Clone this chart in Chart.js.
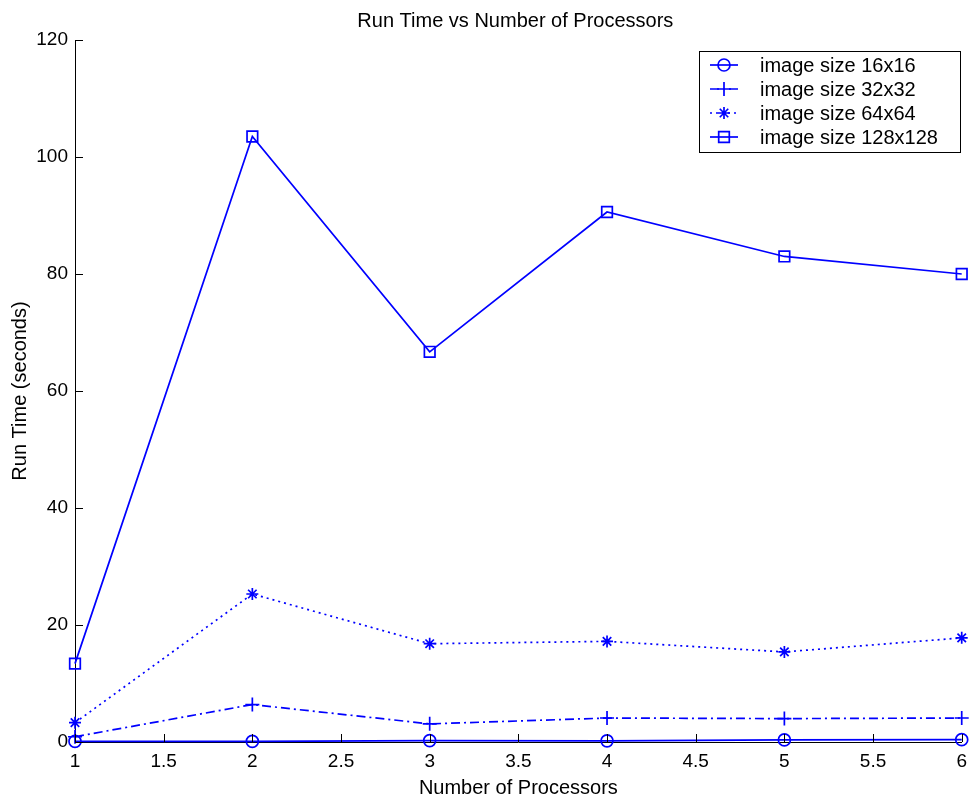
<!DOCTYPE html>
<html>
<head>
<meta charset="utf-8">
<title>Run Time vs Number of Processors</title>
<script src="https://cdn.jsdelivr.net/npm/chart.js@4.4.1/dist/chart.umd.min.js"></script>
<style>
    body { margin: 0; background: #fff; }
</style>
</head>
<body>
<canvas id="myChart" width="975" height="800"></canvas>
<script>
// datos
const processors = [1, 2, 3, 4, 5, 6];
const size16 = [0.1, 0.1, 0.25, 0.2, 0.35, 0.4];
const size32 = [0.9, 6.4, 3.1, 4.1, 4.0, 4.1];
const size64 = [3.3, 25.3, 16.8, 17.2, 15.4, 17.8];
const size128 = [13.4, 103.5, 66.7, 90.6, 83.0, 80.0];
const seriesLabels = ['image size 16x16', 'image size 32x32', 'image size 64x64', 'image size 128x128'];
const xTicks = [1, 1.5, 2, 2.5, 3, 3.5, 4, 4.5, 5, 5.5, 6];
const yTicks = [0, 20, 40, 60, 80, 100, 120];

const fuente = 'Arial, "Liberation Sans", sans-serif';
const azul = '#0000ff';

function serie(label, values, style, radius, dash) {
    return {
        label: label,
        data: processors.map((p, i) => ({ x: p, y: values[i] })),
        borderColor: azul,
        borderWidth: 1.7,
        borderDash: dash,
        backgroundColor: 'rgba(0,0,0,0)',
        pointStyle: style,
        pointRadius: radius,
        pointBorderColor: azul,
        pointBackgroundColor: 'rgba(0,0,0,0)',
        pointBorderWidth: 1.7,
        tension: 0,
        clip: false
    };
}

// marcas hacia dentro, titulo y leyenda dentro del area
const extras = {
    id: 'extras',
    afterDraw(chart) {
        const { ctx, chartArea, scales } = chart;
        ctx.save();
        ctx.strokeStyle = '#000';
        ctx.lineWidth = 1;
        ctx.setLineDash([]);
        ctx.beginPath();
        scales.x.ticks.forEach(t => {
            const px = Math.round(scales.x.getPixelForValue(t.value)) + 0.5;
            ctx.moveTo(px, chartArea.bottom);
            ctx.lineTo(px, chartArea.bottom - 8);
        });
        scales.y.ticks.forEach(t => {
            const py = Math.round(scales.y.getPixelForValue(t.value)) + 0.5;
            ctx.moveTo(chartArea.left, py);
            ctx.lineTo(chartArea.left + 8, py);
        });
        ctx.stroke();

        ctx.fillStyle = '#000';
        ctx.font = '20px ' + fuente;
        ctx.textAlign = 'center';
        ctx.textBaseline = 'alphabetic';
        ctx.fillText('Run Time vs Number of Processors', (chartArea.left + chartArea.right) / 2 - 3, 27);

        // leyenda
        const bx = 699, by = 51, bw = 261, bh = 101;
        ctx.fillStyle = '#fff';
        ctx.fillRect(bx, by, bw, bh);
        ctx.strokeStyle = '#000';
        ctx.lineWidth = 1;
        ctx.strokeRect(bx + 0.5, by + 0.5, bw, bh);
        chart.data.datasets.forEach((ds, i) => {
            const y = 65 + i * 24;
            ctx.strokeStyle = azul;
            ctx.lineWidth = 1.7;
            ctx.setLineDash(ds.borderDash || []);
            ctx.beginPath();
            ctx.moveTo(710, y);
            ctx.lineTo(738, y);
            ctx.stroke();
            ctx.setLineDash([]);
            ctx.fillStyle = 'rgba(0,0,0,0)';
            Chart.helpers.drawPoint(ctx, {
                pointStyle: ds.pointStyle,
                radius: ds.pointRadius,
                rotation: 0,
                borderWidth: 1.7
            }, 724, y);
            ctx.fillStyle = '#000';
            ctx.font = '20px ' + fuente;
            ctx.textAlign = 'left';
            ctx.textBaseline = 'middle';
            ctx.fillText(ds.label, 760, y + 1);
        });
        ctx.restore();
    }
};

const ctx = document.getElementById('myChart').getContext('2d');
const myChart = new Chart(ctx, {
    type: 'line',
    data: {
        datasets: [
            serie(seriesLabels[0], size16, 'circle', 6, []),
            serie(seriesLabels[1], size32, 'cross', 7, [9, 4, 2, 4]),
            serie(seriesLabels[2], size64, 'star', 6, [2, 4]),
            serie(seriesLabels[3], size128, 'rect', 7.5, [])
        ]
    },
    options: {
        responsive: false,
        animation: false,
        layout: {
            padding: { top: 40, right: 8, left: 0, bottom: 0 }
        },
        plugins: {
            legend: { display: false },
            title: { display: false },
            tooltip: { enabled: false }
        },
        scales: {
            x: {
                type: 'linear',
                min: 1,
                max: 6,
                afterBuildTicks: s => { s.ticks = xTicks.map(v => ({ value: v })); },
                afterFit: s => { s.height = 58; },
                grid: { drawOnChartArea: false, drawTicks: false },
                border: { display: true, color: '#000', width: 1 },
                ticks: {
                    color: '#000',
                    padding: 8,
                    maxRotation: 0,
                    font: { family: fuente, size: 19 },
                    callback: v => String(v)
                },
                title: {
                    display: true,
                    text: 'Number of Processors',
                    color: '#000',
                    font: { family: fuente, size: 20 },
                    padding: { top: 0, bottom: 0 }
                }
            },
            y: {
                type: 'linear',
                min: 0,
                max: 120,
                afterBuildTicks: s => { s.ticks = yTicks.map(v => ({ value: v })); },
                afterFit: s => { s.width = 75; },
                grid: { drawOnChartArea: false, drawTicks: false },
                border: { display: true, color: '#000', width: 1 },
                ticks: {
                    color: '#000',
                    padding: 7,
                    font: { family: fuente, size: 19 },
                    callback: v => String(v)
                },
                title: {
                    display: true,
                    text: 'Run Time (seconds)',
                    color: '#000',
                    font: { family: fuente, size: 20 },
                    padding: { top: 8, bottom: 0 }
                }
            }
        }
    },
    plugins: [extras]
});
</script>
</body>
</html>
